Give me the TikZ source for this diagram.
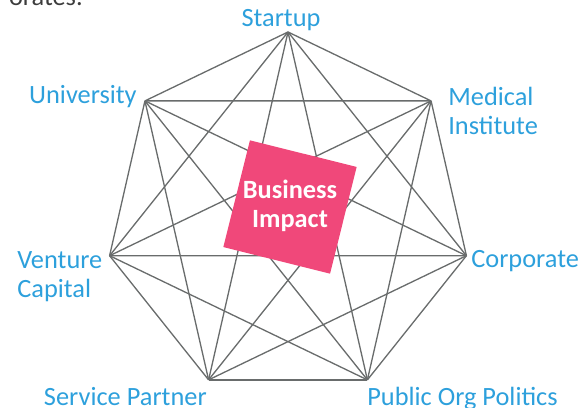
\documentclass[tikz,border=0pt]{standalone}
\usepackage{fontspec}
\setmainfont{Carlito}
\usepackage{tikz}
\definecolor{partnerblue}{RGB}{45,160,220}
\definecolor{impactpink}{RGB}{240,72,122}
\definecolor{linkgray}{RGB}{105,108,108}
\definecolor{introgray}{RGB}{60,60,60}

\begin{document}
\begin{tikzpicture}[x=0.02cm, y=0.02cm, font=\fontsize{15}{16.5}\selectfont,
	partner/.style={text=partnerblue, inner sep=0pt, align=left},
	link/.style={draw=linkgray, line width=0.75pt}]
	\useasboundingbox (-288,-193) rectangle (299,215);
	%\draw[help lines] (-288,-193) grid (299,215);
	\node[text=introgray, inner sep=0pt, anchor=base east] (intro) at (-205,209) {orates.};
	\foreach \k in {0,...,6}
		\coordinate (v\k) at ({90-\k*360/7}:183);
	\foreach \i [evaluate=\i as \n using {int(\i+1)}] in {0,...,5}
		\foreach \j in {\n,...,6}
			\draw[link] (v\i) -- (v\j);
	\node[partner, anchor=base] (startup) at (-7,188) {Startup};
	\node[partner, anchor=north west] (medical) at (160,128) {Medical\\Institute};
	\node[partner, anchor=base west] (corporate) at (183,-53) {Corporate};
	\node[partner, anchor=base west] (public) at (79,-190) {Public Org Politics};
	\node[partner, anchor=base east] (service) at (-81,-190) {Service Partner};
	\node[partner, anchor=north west] (venture) at (-271,-36) {Venture\\Capital};
	\node[partner, anchor=base east] (university) at (-151,111) {University};
	\node[fill=impactpink, minimum size=2.2cm, rotate=-14] (impactbox) at (2,8) {};
	\node[text=white, font=\fontsize{15}{16.5}\selectfont\bfseries, align=center] (impact) at (2,9) {Business\\Impact};
\end{tikzpicture}
\end{document}
